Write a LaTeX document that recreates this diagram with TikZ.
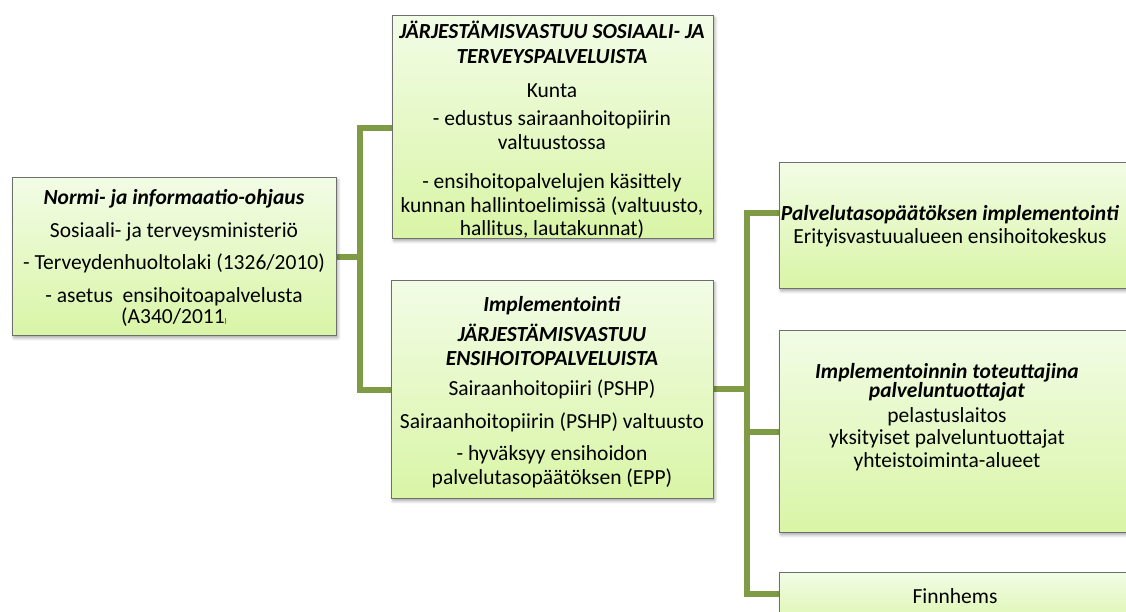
\documentclass[tikz,border=0pt]{standalone}
\usepackage{fontspec}
\setmainfont{Carlito}
\usetikzlibrary{shadows.blur}
\definecolor{boxtop}{HTML}{F2FCE6}
\definecolor{boxbot}{HTML}{D9F5A6}
\definecolor{conncol}{HTML}{7F9B45}
\definecolor{boxedge}{HTML}{6E6E6E}
\newcommand{\bfit}[1]{\textbf{\textit{#1}}}
\tikzset{
  box/.style={draw=boxedge, line width=0.9pt, top color=boxtop, bottom color=boxbot,
    anchor=north west, inner sep=0pt,
    blur shadow={shadow xshift=1.5pt, shadow yshift=-2.5pt, shadow blur radius=3pt,
      shadow blur steps=6, shadow opacity=35}},
  txt/.style={align=center, font=\fontsize{21.5}{23.5}\selectfont, inner sep=0pt},
  conn/.style={draw=conncol, line width=5.5pt}
}
\begin{document}
\begin{tikzpicture}[x=1pt,y=-1pt]
\useasboundingbox (0,0) rectangle (1126,612);
% connectors
\coordinate (j1) at (360,257);
\coordinate (j2) at (747,389);
\coordinate (L0) at (336,257);
\coordinate (T0) at (392,128);
\coordinate (M0) at (391,390);
\coordinate (M1) at (713,389);
\coordinate (R10) at (779,213);
\coordinate (R20) at (779,432);
\coordinate (R30) at (779,594);
\draw[conn] (L0) -- (j1);
\draw[conn] (T0) -| (j1) |- (M0);
\draw[conn] (M1) -- (j2);
\draw[conn] (R10) -| (j2) |- (R30);
\draw[conn] (j2) |- (R20);
% boxes
\node[box, minimum width=324pt, minimum height=158pt] (L) at (12,177) {};
\node[box, minimum width=321pt, minimum height=223pt] (T) at (392,15) {};
\node[box, minimum width=322pt, minimum height=218pt] (M) at (391,280) {};
\node[box, minimum width=360pt, minimum height=126pt] (R1) at (779,162) {};
\node[box, minimum width=360pt, minimum height=202pt] (R2) at (779,330) {};
\node[box, minimum width=360pt, minimum height=60pt] (R3) at (779,572) {};
% texts
\node[txt] (Lt) at (174,258) {\bfit{Normi- ja informaatio-ohjaus}\\[9pt]
  Sosiaali- ja terveysministeriö\\[9pt]
  - Terveydenhuoltolaki (1326/2010)\\[9pt]
  - asetus~~ensihoitoapalvelusta\\[-2pt]
  (A340/2011{\scriptsize)}};
\node[txt] (Tt) at (552,130) {\bfit{JÄRJESTÄMISVASTUU SOSIAALI- JA}\\[1.5pt]
  \bfit{TERVEYSPALVELUISTA}\\[10pt]
  Kunta\\[5pt]
  - edustus sairaanhoitopiirin\\
  valtuustossa\\[16pt]
  - ensihoitopalvelujen käsittely\\
  kunnan hallintoelimissä (valtuusto,\\
  hallitus, lautakunnat)};
\node[txt] (Mt) at (552,392) {\bfit{Implementointi}\\[7pt]
  \bfit{JÄRJESTÄMISVASTUU}\\
  \bfit{ENSIHOITOPALVELUISTA}\\[7pt]
  Sairaanhoitopiiri (PSHP)\\[9pt]
  Sairaanhoitopiirin (PSHP) valtuusto\\[9pt]
  - hyväksyy ensihoidon\\
  palvelutasopäätöksen (EPP)};
\node[txt] (R1t) at (950,226) {\bfit{Palvelutasopäätöksen implementointi}\\
  Erityisvastuualueen ensihoitokeskus};
\node[txt] (R2t) at (947,417) {\bfit{Implementoinnin toteuttajina}\\[-4pt]
  \bfit{palveluntuottajat}\\[1pt]
  pelastuslaitos\\[-1pt]
  yksityiset palveluntuottajat\\[-1pt]
  yhteistoiminta-alueet};
\node[txt] (R3t) at (955,596) {Finnhems};
\end{tikzpicture}
\end{document}
